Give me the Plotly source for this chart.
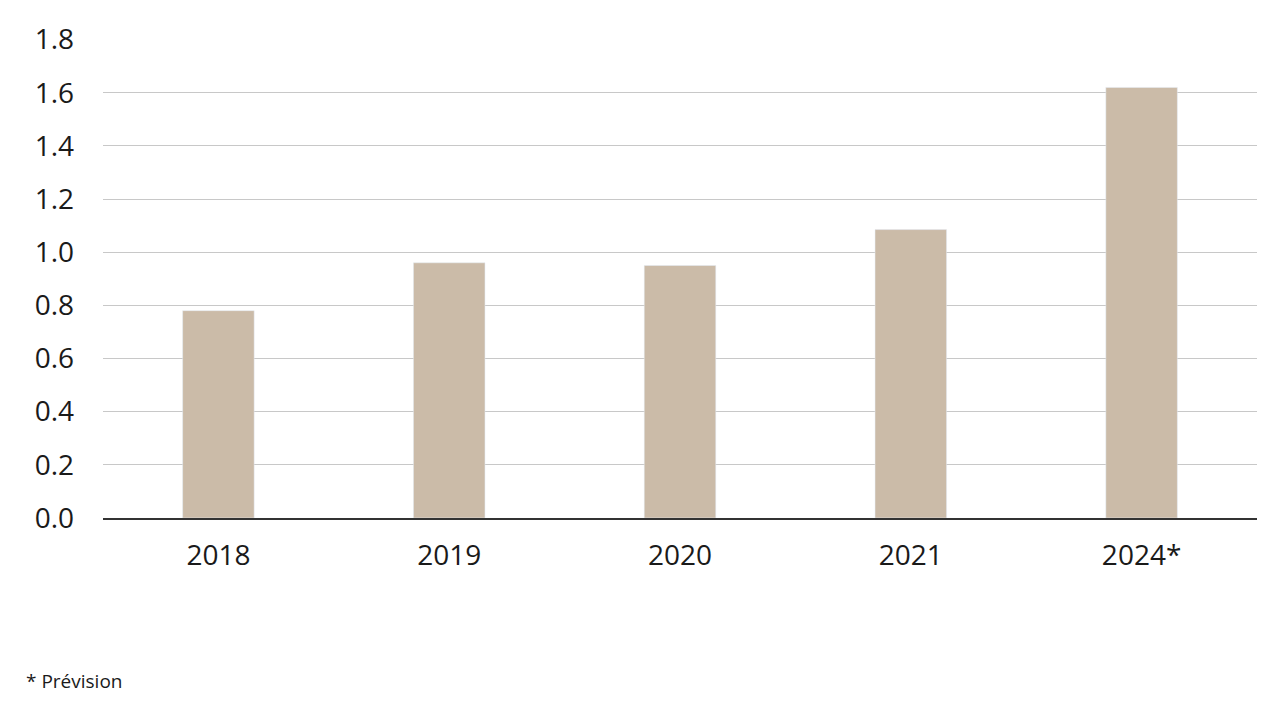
import plotly.graph_objects as go

categories = ["2018", "2019", "2020", "2021", "2024*"]
values = [0.78, 0.96, 0.95, 1.085, 1.62]
tick_vals = [0, 0.2, 0.4, 0.6, 0.8, 1.0, 1.2, 1.4, 1.6, 1.8]
tick_text = ["0.0", "0.2", "0.4", "0.6", "0.8", "1.0", "1.2", "1.4", "1.6", "1.8"]

fig = go.Figure(go.Bar(x=categories, y=values, marker_color="#cbbba8", hoverinfo="skip"))
fig.update_layout(
    width=1280, height=719,
    margin=dict(l=95, r=31, t=31, b=209),
    plot_bgcolor="white", paper_bgcolor="white",
    bargap=0.69, showlegend=False,
    font=dict(family="Open Sans", size=28, color="#1a1a1a"),
    annotations=[dict(text="* Prévision", xref="paper", yref="paper", x=-79/1154, y=-163/479,
                      xanchor="left", yanchor="middle", showarrow=False, font=dict(size=19))],
)
fig.update_yaxes(range=[0, 1.802], tickvals=tick_vals, ticktext=tick_text, showgrid=True,
                 gridcolor="#c8c8c8", gridwidth=1, zeroline=False, ticks="", ticklabelstandoff=28,
                 showline=False, automargin=False)
fig.update_xaxes(showline=True, linecolor="#333333", linewidth=1.5, ticks="", ticklabelstandoff=12,
                 automargin=False)
fig.write_html("out.html")
